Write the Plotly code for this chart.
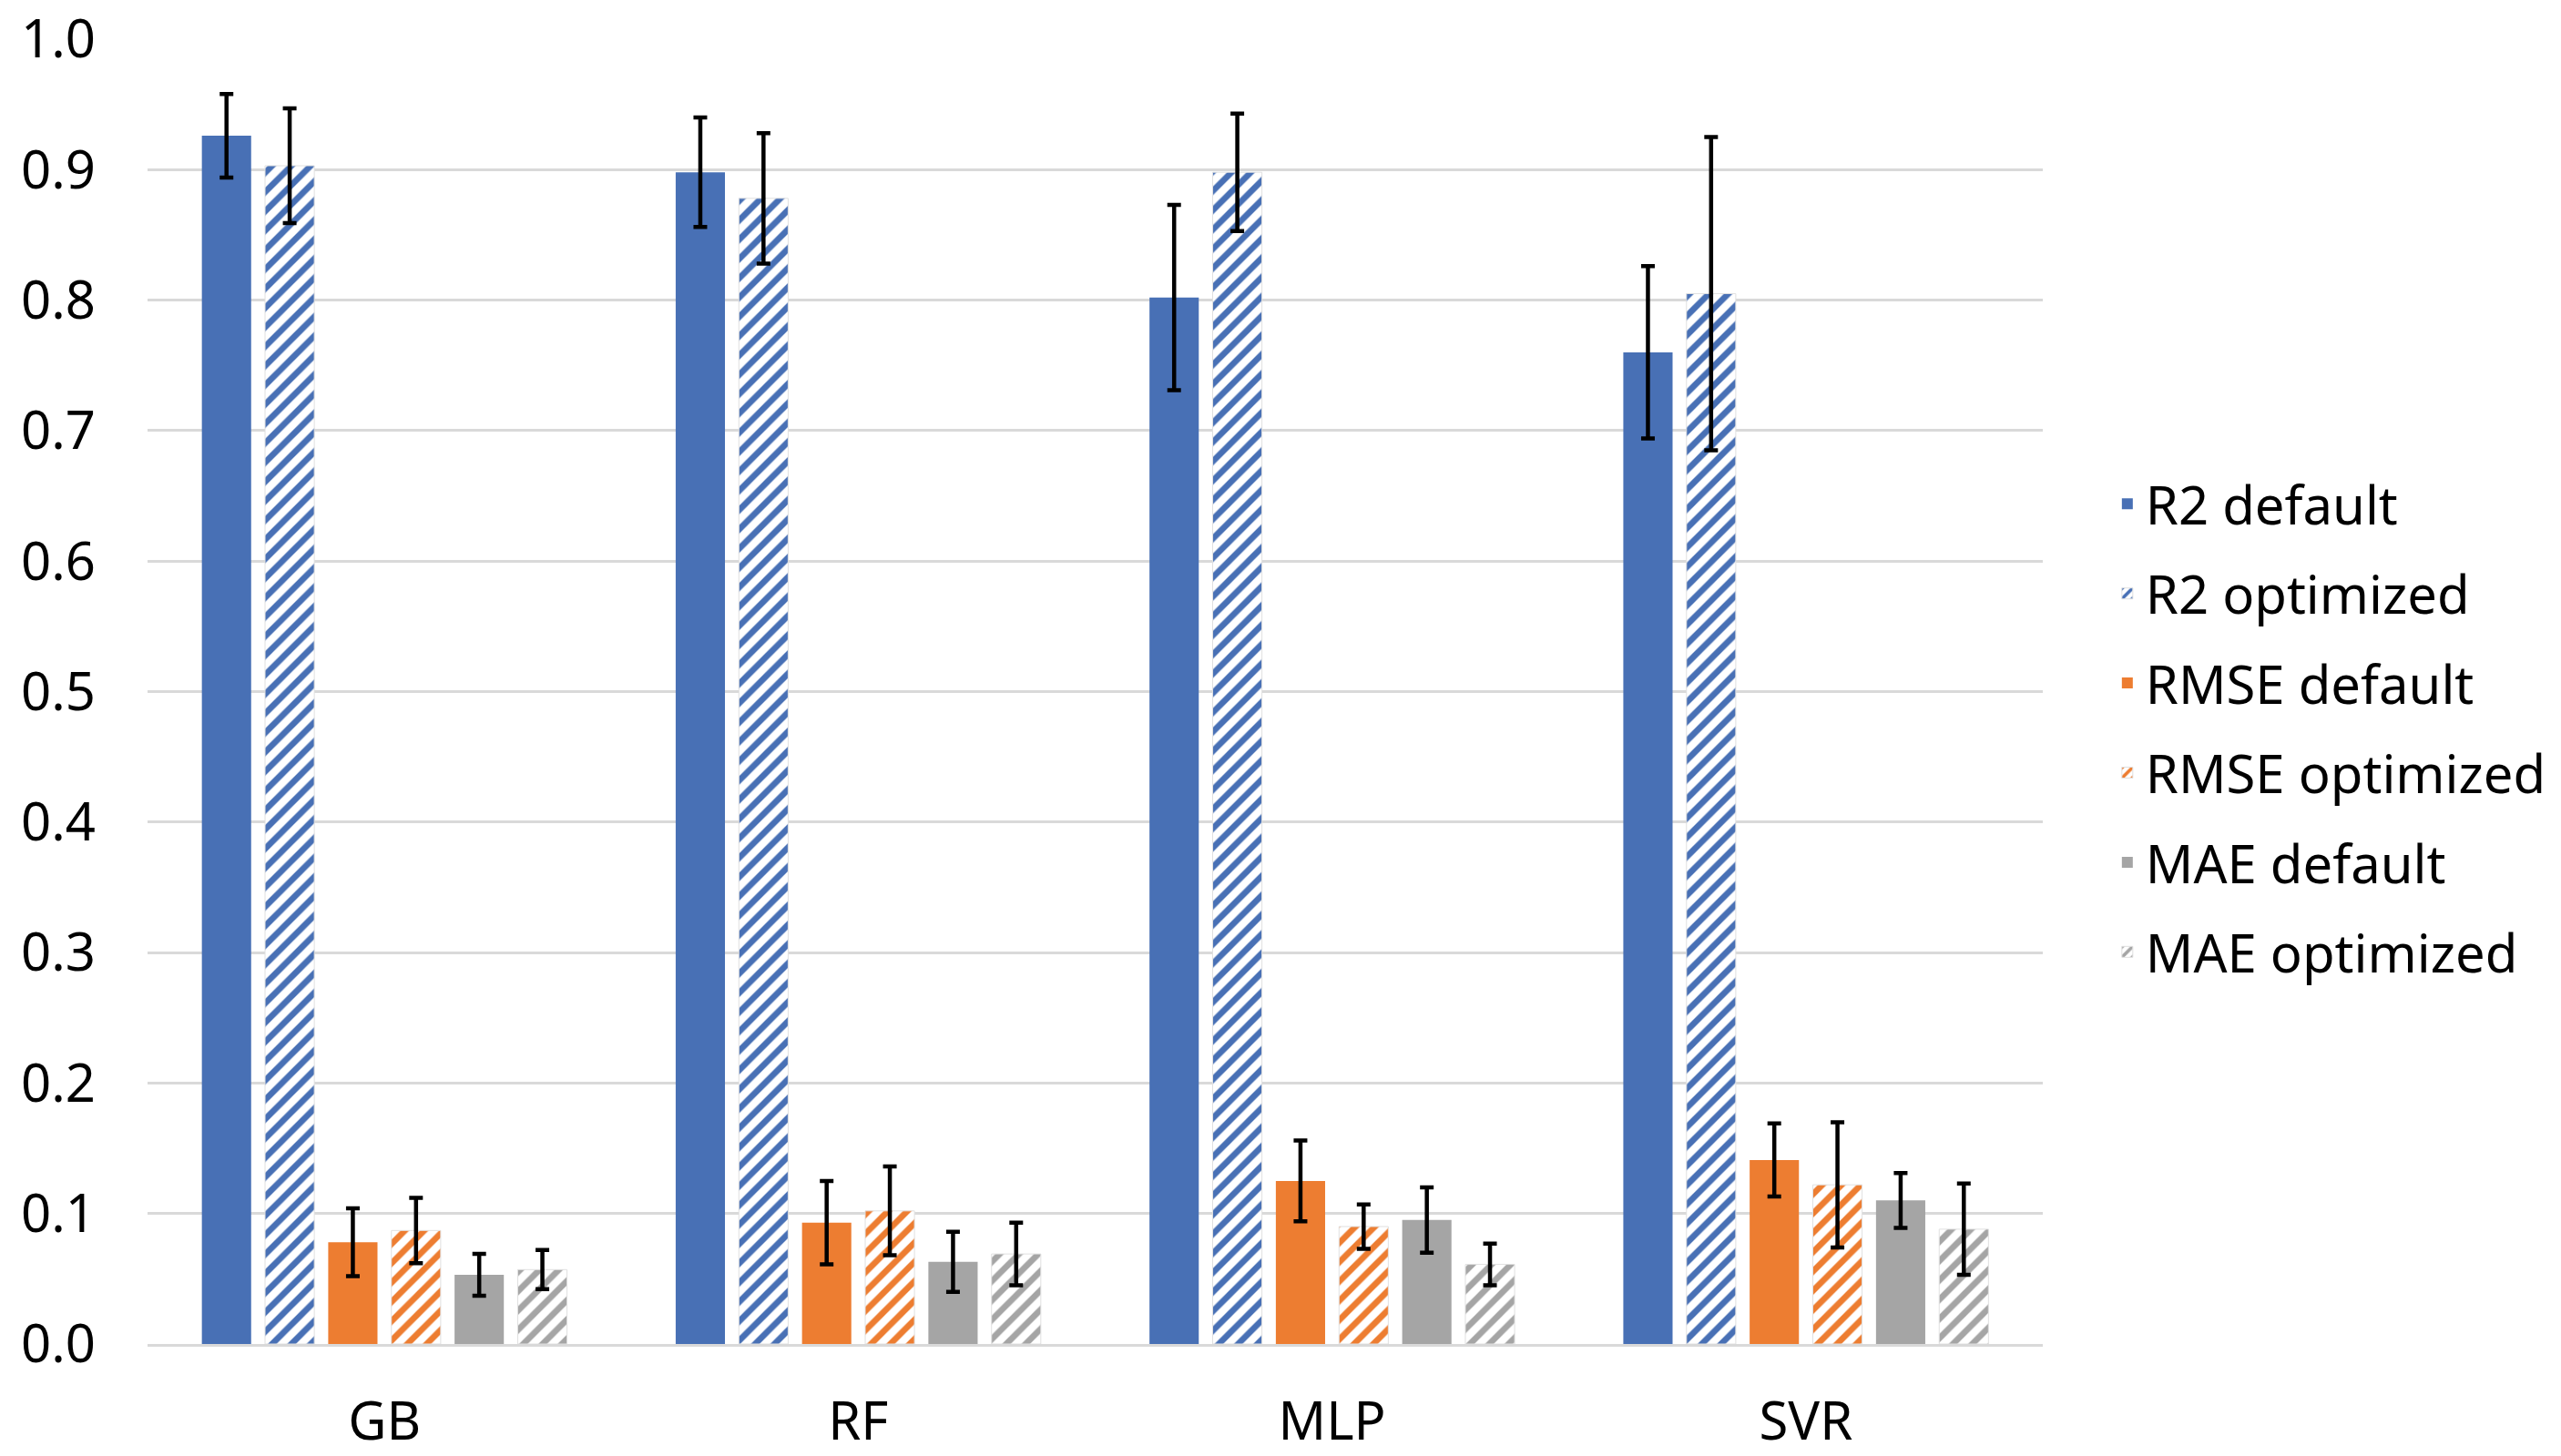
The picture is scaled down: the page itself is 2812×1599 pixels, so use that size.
import plotly.graph_objects as go

categories = ["GB", "RF", "MLP", "SVR"]

series_names = ["R2 default", "R2 optimized", "RMSE default", "RMSE optimized", "MAE default", "MAE optimized"]

r2_default = [0.926, 0.898, 0.802, 0.760]
r2_default_err = [0.032, 0.042, 0.071, 0.066]
r2_optimized = [0.903, 0.878, 0.898, 0.805]
r2_optimized_err = [0.044, 0.050, 0.045, 0.120]
rmse_default = [0.078, 0.093, 0.125, 0.141]
rmse_default_err = [0.026, 0.032, 0.031, 0.028]
rmse_optimized = [0.087, 0.102, 0.090, 0.122]
rmse_optimized_err = [0.025, 0.034, 0.017, 0.048]
mae_default = [0.053, 0.063, 0.095, 0.110]
mae_default_err = [0.016, 0.023, 0.025, 0.021]
mae_optimized = [0.057, 0.069, 0.061, 0.088]
mae_optimized_err = [0.015, 0.024, 0.016, 0.035]

y_ticks = [0.0, 0.1, 0.2, 0.3, 0.4, 0.5, 0.6, 0.7, 0.8, 0.9, 1.0]

values = [r2_default, r2_optimized, rmse_default, rmse_optimized, mae_default, mae_optimized]
errors = [r2_default_err, r2_optimized_err, rmse_default_err, rmse_optimized_err, mae_default_err, mae_optimized_err]
colors = ["#4870B5", "#4870B5", "#ED7D31", "#ED7D31", "#A5A5A5", "#A5A5A5"]
hatched = [False, True, False, True, False, True]

FONT = "Noto Sans"
FS = 58

fig = go.Figure()
for i, name in enumerate(series_names):
    if hatched[i]:
        marker = dict(
            color="white",
            pattern=dict(shape="/", fgcolor=colors[i], bgcolor="white", fgopacity=1,
                         size=15, solidity=0.45, fillmode="replace"),
            line=dict(width=1, color="#E0E0E0"),
        )
    else:
        marker = dict(color=colors[i], line=dict(width=0))
    fig.add_trace(go.Bar(
        x=categories,
        y=values[i],
        name=name,
        legendgroup=name,
        marker=marker,
        error_y=dict(type="data", array=errors[i], visible=True, color="black", thickness=4.5, width=7.5),
    ))

fig.update_layout(
    width=2812,
    height=1599,
    paper_bgcolor="white",
    plot_bgcolor="white",
    barmode="group",
    bargap=0.2,
    bargroupgap=0.22,
    margin=dict(l=162, r=569, t=43, b=123, autoexpand=False),
    font=dict(family=FONT, size=FS, color="black"),
    legend=dict(
        x=1.035, xanchor="left", y=0.472, yanchor="middle",
        font=dict(family=FONT, size=FS, color="black"),
        tracegroupgap=20,
        bgcolor="rgba(0,0,0,0)",
    ),
    showlegend=True,
)
fig.update_xaxes(
    automargin=False,
    showgrid=False,
    showline=True, linecolor="#D9D9D9", linewidth=3,
    ticks="", tickfont=dict(family=FONT, size=FS, color="black"),
    ticklabelstandoff=32,
)
fig.update_yaxes(
    automargin=False,
    range=[0, 1.0],
    tickvals=y_ticks,
    tickformat=".1f",
    showgrid=True, gridcolor="#D9D9D9", gridwidth=3,
    zeroline=False, showline=False,
    ticks="", tickfont=dict(family=FONT, size=FS, color="black"),
    ticklabelstandoff=56,
)

fig.write_html("out.html", config={"displayModeBar": False},
               post_script="document.body.style.margin='0px';")
